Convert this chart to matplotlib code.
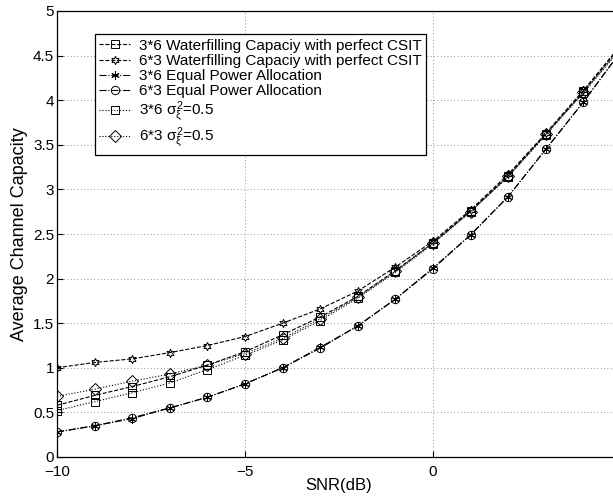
import matplotlib

matplotlib.use("Agg")
import matplotlib.pyplot as plt
import numpy as np

plt.rcParams["font.family"] = ["Liberation Sans", "DejaVu Sans"]
plt.rcParams["mathtext.fontset"] = "custom"
plt.rcParams["mathtext.rm"] = "Liberation Sans"
plt.rcParams["mathtext.it"] = "Liberation Sans"

# SNR points (dB)
snr = [-10, -9, -8, -7, -6, -5, -4, -3, -2, -1, 0, 1, 2, 3, 4, 5]

# capacity curves
wf_36 = [0.58, 0.69, 0.79, 0.90, 1.03, 1.18, 1.37, 1.57, 1.80, 2.09, 2.40, 2.76, 3.15, 3.62, 4.10, 4.61]
wf_63 = [1.00, 1.06, 1.10, 1.17, 1.25, 1.35, 1.50, 1.66, 1.86, 2.13, 2.42, 2.77, 3.17, 3.63, 4.11, 4.62]
epa_36 = [0.28, 0.35, 0.43, 0.55, 0.67, 0.82, 1.00, 1.23, 1.47, 1.77, 2.12, 2.49, 2.92, 3.45, 3.98, 4.55]
epa_63 = [0.28, 0.35, 0.44, 0.55, 0.67, 0.82, 1.00, 1.22, 1.47, 1.77, 2.11, 2.49, 2.92, 3.45, 3.98, 4.55]
sig_36 = [0.52, 0.62, 0.72, 0.83, 0.98, 1.14, 1.31, 1.53, 1.78, 2.07, 2.39, 2.75, 3.14, 3.61, 4.08, 4.58]
sig_63 = [0.68, 0.76, 0.85, 0.93, 1.03, 1.16, 1.33, 1.55, 1.79, 2.08, 2.40, 2.75, 3.15, 3.62, 4.09, 4.59]

labels = [
    "3*6 Waterfilling Capaciy with perfect CSIT",
    "6*3 Waterfilling Capaciy with perfect CSIT",
    "3*6 Equal Power Allocation",
    "6*3 Equal Power Allocation",
    r"3*6 $\sigma_\xi^2$=0.5",
    r"6*3 $\sigma_\xi^2$=0.5",
]

fig = plt.figure(figsize=(6.13, 4.97), dpi=100)
ax = fig.add_axes([57 / 613, 40 / 497, 564 / 613, 446 / 497])

kw = dict(color="black", linewidth=0.8, markersize=6, markerfacecolor="none",
          markeredgewidth=0.7)
ax.plot(snr, wf_36, linestyle="--", marker="s", label=labels[0], **kw)
ax.plot(snr, wf_63, linestyle="--", marker=(6, 1, 0), label=labels[1], **kw)
ax.plot(snr, epa_36, linestyle="-.", marker=(6, 2, 0), label=labels[2], **kw)
ax.plot(snr, epa_63, linestyle="-.", marker="o", label=labels[3], **kw)
ax.plot(snr, sig_36, linestyle=":", marker="s", label=labels[4], **kw)
ax.plot(snr, sig_63, linestyle=":", marker="D", label=labels[5], **kw)

ax.set_xlim(-10, 5)
ax.set_ylim(0, 5)
ax.set_xticks([-10, -5, 0, 5])
ax.set_xticklabels(["\u221210", "\u22125", "0", ""])
ax.set_yticks(np.arange(0, 5.01, 0.5))
ax.set_yticklabels(["0", "0.5", "1", "1.5", "2", "2.5", "3", "3.5", "4", "4.5", "5"])
ax.tick_params(direction="in", labelsize=11, length=4)
ax.tick_params(axis="x", pad=6)
ax.tick_params(axis="y", pad=2)
ax.grid(True, color="0.45", linestyle=(0, (1, 3)), linewidth=0.6)
ax.set_axisbelow(True)
for s in ax.spines.values():
    s.set_linewidth(0.9)

ax.set_xlabel("SNR(dB)", fontsize=12, labelpad=-1)
ax.set_ylabel("Average Channel Capacity", fontsize=13, labelpad=4)

leg = ax.legend(loc="upper left", bbox_to_anchor=(0.067, 0.948), borderaxespad=0,
                fontsize=11, frameon=True, fancybox=False, edgecolor="black",
                framealpha=1, labelspacing=0.08, handlelength=2.0,
                handletextpad=0.6, borderpad=0.3)
leg.get_frame().set_linewidth(0.9)

fig.savefig("out.png", dpi=100)
